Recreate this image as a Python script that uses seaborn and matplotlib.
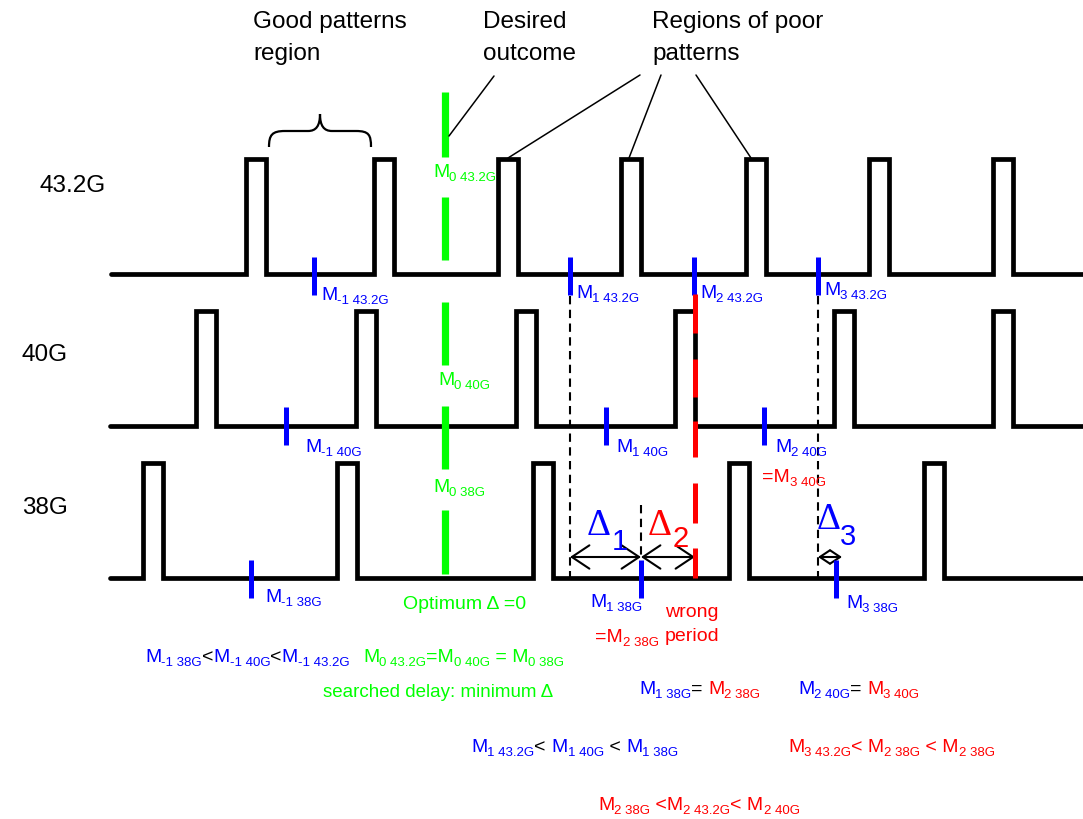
import numpy as np
import pandas as pd
import seaborn as sns
import matplotlib.pyplot as plt
from matplotlib.path import Path
from matplotlib.patches import PathPatch

# diagram is laid out in pixel units (y grows downwards)
rows = ["43.2G", "40G", "38G"]
row_label_x = [40, 22, 22]
row_label_y = [186, 355, 508]
baseline_y = [274, 426, 578]
pulse_top_y = [159, 311, 463]
line_start_x = [111, 110, 110]
line_end_x = 1083
pulse_width = 20
pulse_left_43 = [246, 374, 498, 621, 746, 869, 993]
pulse_left_40 = [196, 356, 516, 675, 834, 993]
pulse_left_38 = [143, 337, 533, 729, 924]

# blue sampling marks M_k of each row
mark_x_43 = [314, 570, 694, 818]
mark_x_40 = [286, 606, 764]
mark_x_38 = [251, 641, 836]
mark_top = [257, 407, 560]
mark_len = 38

# green "desired outcome" dashes and red "wrong period" dashes
green_x = 445
green_y0 = [92, 197, 302, 406, 510]
green_y1 = [157, 260, 365, 469, 574]
red_x = 695
red_y0 = [294, 359, 421, 483, 548]
red_y1 = [333, 397, 457, 523, 578]

# thin black dashed guides
guide_x = [570, 818, 641]
guide_y0 = [296, 296, 505]
guide_y1 = [578, 578, 557]

# delta arrows
arrow_y = 557
arrow_x0 = [570, 641, 818]
arrow_x1 = [641, 695, 842]
arrow_scale = [14, 14, 8]

BLUE, GREEN, RED, BLACK = "#0000ff", "#00ff00", "#ff0000", "black"

sns.set_theme(style="white")
plt.rcParams["font.family"] = ["Liberation Sans", "DejaVu Sans"]
plt.rcParams["text.color"] = "black"

fig = plt.figure(figsize=(10.83, 8.19), dpi=100)
ax = fig.add_axes([0, 0, 1, 1])

# pulse trains
recs = []
for name, x0, yb, yt, lefts in zip(rows, line_start_x, baseline_y, pulse_top_y,
                                   [pulse_left_43, pulse_left_40, pulse_left_38]):
    pts = [(x0, yb)]
    for l in lefts:
        pts += [(l, yb), (l, yt), (l + pulse_width, yt), (l + pulse_width, yb)]
    pts.append((line_end_x, yb))
    for i, (x, y) in enumerate(pts):
        recs.append(dict(row=name, order=i, x=x, y=y))
wave = pd.DataFrame(recs)
sns.lineplot(data=wave, x="x", y="y", units="row", estimator=None, sort=False,
             color="black", lw=3.4, solid_joinstyle="miter", ax=ax)

ax.set_xlim(0, 1083)
ax.set_ylim(819, 0)
ax.axis("off")

# guides, markers
ax.vlines(guide_x, guide_y0, guide_y1, colors=BLACK, lw=1.5, linestyles=(0, (4, 2.6)))
ax.vlines([green_x] * len(green_y0), green_y0, green_y1, colors=GREEN, lw=5.2)
ax.vlines([red_x] * len(red_y0), red_y0, red_y1, colors=RED, lw=3.6, zorder=5)
for xs, top in zip([mark_x_43, mark_x_40, mark_x_38], mark_top):
    ax.vlines(xs, top, top + mark_len, colors=BLUE, lw=3.6, zorder=4)

for a, b, s in zip(arrow_x0, arrow_x1, arrow_scale):
    ax.annotate("", xy=(b, arrow_y), xytext=(a, arrow_y),
                arrowprops=dict(arrowstyle="<->,head_length=0.9,head_width=0.6",
                                lw=1.5, color="black", mutation_scale=s,
                                shrinkA=0, shrinkB=0))

# brace over good pattern region
brace = Path([(269, 147), (269, 135), (272, 131), (285, 131), (308, 131),
              (316, 131), (320, 126), (320, 114), (320, 126), (324, 131),
              (332, 131), (356, 131), (369, 131), (371, 135), (371, 147)],
             [Path.MOVETO, Path.CURVE4, Path.CURVE4, Path.CURVE4, Path.LINETO,
              Path.CURVE4, Path.CURVE4, Path.CURVE4, Path.CURVE4, Path.CURVE4,
              Path.CURVE4, Path.LINETO, Path.CURVE4, Path.CURVE4, Path.CURVE4])
ax.add_patch(PathPatch(brace, fill=False, lw=1.6, ec="black"))

# leader lines
leaders = [((494, 76), (449, 136)), ((640, 75), (508, 158)),
           ((661, 75), (629, 158)), ((696, 75), (751, 158))]
for (xa, ya), (xb, yb) in leaders:
    ax.plot([xa, xb], [ya, yb], color="black", lw=1.1)

# headings and row labels
headings = [(253, "Good patterns", "region"), (483, "Desired", "outcome"),
            (652, "Regions of poor", "patterns")]
for x, l1, l2 in headings:
    ax.text(x, 28, l1, fontsize=17.5, va="baseline")
    ax.text(x, 60, l2, fontsize=17.5, va="baseline")
for name, x, y in zip(rows, row_label_x, row_label_y):
    ax.text(x, y, name, fontsize=17.5, va="center")

renderer = fig.canvas.get_renderer()


def width(s, size):
    t = ax.text(0, 0, "|" + s + "|", fontsize=size)
    w = t.get_window_extent(renderer).width
    t.remove()
    t = ax.text(0, 0, "||", fontsize=size)
    w -= t.get_window_extent(renderer).width
    t.remove()
    return w


def rich(x, y, pieces, size=14, sub=9.5, drop=4):
    for txt, col, is_sub in pieces:
        fs = sub if is_sub else size
        ax.text(x, y + (drop if is_sub else 0), txt, color=col, fontsize=fs,
                va="baseline", ha="left")
        x += width(txt, fs)


def m(x, y, idx, col):
    rich(x, y, [("M", col, False), (idx, col, True)])


# marker labels
m(433, 177, "0 43.2G", GREEN)
m(321, 300, "-1 43.2G", BLUE)
m(576, 298, "1 43.2G", BLUE)
m(700, 298, "2 43.2G", BLUE)
m(824, 295, "3 43.2G", BLUE)
m(438, 385, "0 40G", GREEN)
m(305, 452, "-1 40G", BLUE)
m(616, 452, "1 40G", BLUE)
m(775, 452, "2 40G", BLUE)
rich(762, 482, [("=M", RED, False), ("3 40G", RED, True)])
m(433, 492, "0 38G", GREEN)
m(265, 602, "-1 38G", BLUE)
m(590, 607, "1 38G", BLUE)
rich(595, 642, [("=M", RED, False), ("2 38G", RED, True)])
m(846, 608, "3 38G", BLUE)
ax.text(665, 617, "wrong", color=RED, fontsize=14, va="baseline")
ax.text(665, 641, "period", color=RED, fontsize=14, va="baseline")
ax.text(403, 609, "Optimum \u0394 =0", color=GREEN, fontsize=14, va="baseline")

# delta symbols
for x, y, sx, sy, d, col in [(587, 535, 612, 550, "1", BLUE),
                             (648, 535, 673, 547, "2", RED),
                             (817, 529, 840, 545, "3", BLUE)]:
    ax.text(x, y, "\u0394", color=col, fontsize=27, family="Liberation Serif", va="baseline")
    ax.text(sx, sy, d, color=col, fontsize=21, va="baseline")

# relations below
rich(145, 662, [("M", BLUE, False), ("-1 38G", BLUE, True), ("<", BLACK, False),
                ("M", BLUE, False), ("-1 40G", BLUE, True), ("<", BLACK, False),
                ("M", BLUE, False), ("-1 43.2G", BLUE, True)])
rich(363, 662, [("M", GREEN, False), ("0 43.2G", GREEN, True), ("=M", GREEN, False),
                ("0 40G", GREEN, True), (" = M", GREEN, False), ("0 38G", GREEN, True)])
ax.text(323, 697, "searched delay: minimum \u0394", color=GREEN, fontsize=13.5, va="baseline")
rich(639, 694, [("M", BLUE, False), ("1 38G", BLUE, True), ("= ", BLACK, False),
                ("M", RED, False), ("2 38G", RED, True)])
rich(798, 694, [("M", BLUE, False), ("2 40G", BLUE, True), ("= ", BLACK, False),
                ("M", RED, False), ("3 40G", RED, True)])
rich(471, 752, [("M", BLUE, False), ("1 43.2G", BLUE, True), ("< ", BLACK, False),
                ("M", BLUE, False), ("1 40G", BLUE, True), (" < ", BLACK, False),
                ("M", BLUE, False), ("1 38G", BLUE, True)])
rich(788, 752, [("M", RED, False), ("3 43.2G", RED, True), ("< M", RED, False),
                ("2 38G", RED, True), (" < M", RED, False), ("2 38G", RED, True)])
rich(598, 810, [("M", RED, False), ("2 38G", RED, True), (" <M", RED, False),
                ("2 43.2G", RED, True), ("< M", RED, False), ("2 40G", RED, True)])

fig.savefig("out.png", dpi=100)
